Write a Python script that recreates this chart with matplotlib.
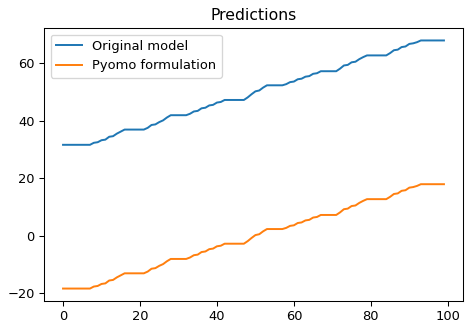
import matplotlib
matplotlib.use("Agg")
from matplotlib import pyplot as plt
import numpy as np

x = np.arange(100)

original = [31.7, 31.7, 31.7, 31.7, 31.7, 31.7, 31.7, 31.7,
            32.4, 32.6, 33.3, 33.5, 34.5, 34.7, 35.6, 36.3, 37.0,
            37.0, 37.0, 37.0, 37.0, 37.0,
            37.6, 38.6, 38.8, 39.6, 40.2, 41.2, 42.0,
            42.0, 42.0, 42.0, 42.0,
            42.5, 43.3, 43.5, 44.4, 44.6, 45.4, 45.6, 46.4, 46.6, 47.3,
            47.3, 47.3, 47.3, 47.3, 47.3,
            48.2, 49.3, 50.3, 50.6, 51.6, 52.4,
            52.4, 52.4, 52.4, 52.4,
            52.8, 53.5, 53.7, 54.5, 54.7, 55.4, 55.6, 56.4, 56.6, 57.3,
            57.3, 57.3, 57.3, 57.3,
            58.2, 59.3, 59.5, 60.4, 60.6, 61.5, 62.2, 62.8,
            62.8, 62.8, 62.8, 62.8, 62.8,
            63.6, 64.6, 64.8, 65.7, 65.9, 66.8, 67.0, 67.4, 68.0,
            68.0, 68.0, 68.0, 68.0, 68.0, 68.0]

pyomo = [-18.3, -18.3, -18.3, -18.3, -18.3, -18.3, -18.3, -18.3,
         -17.6, -17.4, -16.7, -16.5, -15.5, -15.3, -14.4, -13.7, -13.0,
         -13.0, -13.0, -13.0, -13.0, -13.0,
         -12.4, -11.4, -11.2, -10.4, -9.8, -8.8, -8.0,
         -8.0, -8.0, -8.0, -8.0,
         -7.5, -6.7, -6.5, -5.6, -5.4, -4.6, -4.4, -3.6, -3.4, -2.7,
         -2.7, -2.7, -2.7, -2.7, -2.7,
         -1.8, -0.7, 0.3, 0.6, 1.6, 2.4,
         2.4, 2.4, 2.4, 2.4,
         2.8, 3.5, 3.7, 4.5, 4.7, 5.4, 5.6, 6.4, 6.6, 7.3,
         7.3, 7.3, 7.3, 7.3,
         8.2, 9.3, 9.5, 10.4, 10.6, 11.5, 12.2, 12.8,
         12.8, 12.8, 12.8, 12.8, 12.8,
         13.6, 14.6, 14.8, 15.7, 15.9, 16.8, 17.0, 17.4, 18.0,
         18.0, 18.0, 18.0, 18.0, 18.0, 18.0]

dpi = 94
fig = plt.figure(figsize=(471 / dpi, 330 / dpi), dpi=dpi)
plt.subplots_adjust(left=0.0934, right=0.983, top=0.915, bottom=0.088)

plt.plot(x, original, label="Original model")
plt.plot(x, pyomo, label="Pyomo formulation")
plt.title("Predictions")
plt.legend(loc="upper left")

plt.savefig("out.png", dpi=dpi)
